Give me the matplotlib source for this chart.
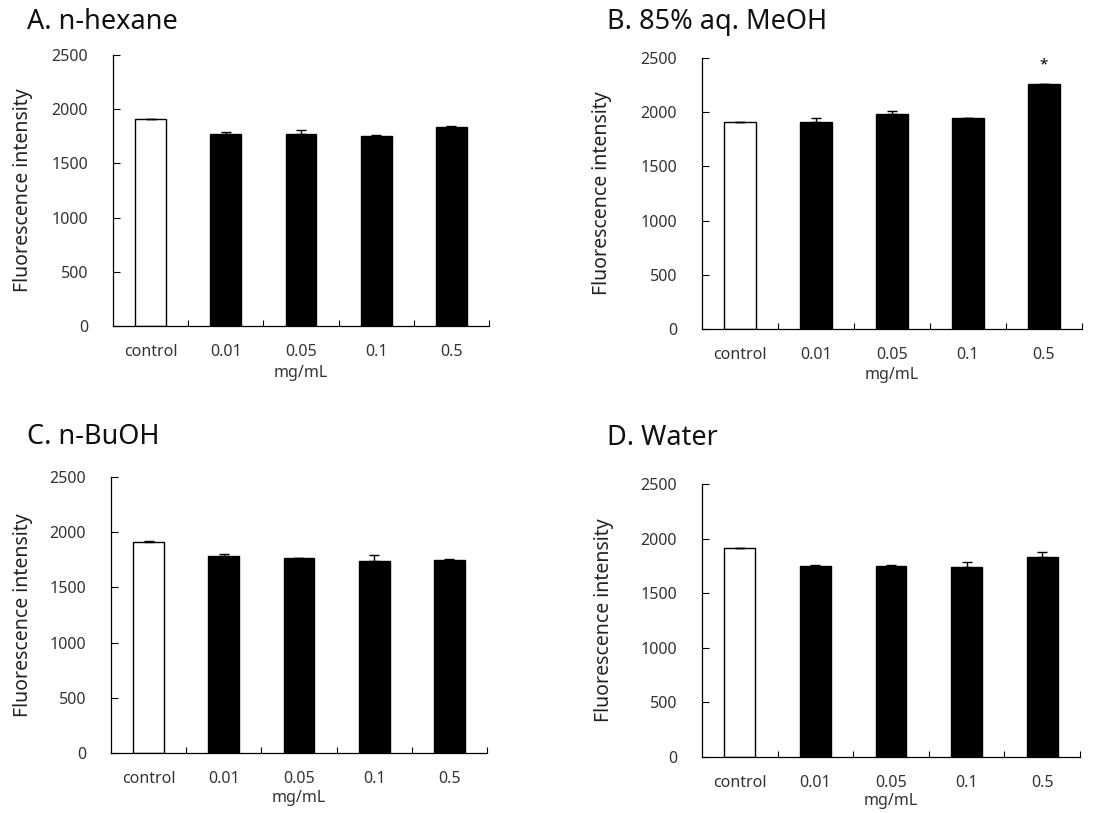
import matplotlib
matplotlib.use("Agg")
import matplotlib.pyplot as plt
import numpy as np

plt.rcParams['font.family'] = ['Noto Sans', 'DejaVu Sans']

categories = ["control", "0.01", "0.05", "0.1", "0.5"]
titles = ["A. n-hexane", "B. 85% aq. MeOH", "C. n-BuOH", "D. Water"]

hexane_vals = [1905, 1768, 1768, 1755, 1835]
hexane_err = [5, 20, 36, 4, 12]
meoh_vals = [1905, 1905, 1986, 1943, 2260]
meoh_err = [4, 37, 25, 4, 4]
buoh_vals = [1910, 1786, 1762, 1741, 1750]
buoh_err = [6, 21, 4, 54, 6]
water_vals = [1912, 1752, 1752, 1741, 1836]
water_err = [4, 9, 9, 49, 43]

values = [hexane_vals, meoh_vals, buoh_vals, water_vals]
errors = [hexane_err, meoh_err, buoh_err, water_err]
star_panel = 1
star_index = 4
star_value = 2435

yticks = [0, 500, 1000, 1500, 2000, 2500]

W, H = 1114, 813
fig = plt.figure(figsize=(W / 100, H / 100), dpi=100)

# axes boxes in pixels: (left, top, right, bottom)
boxes = [(113, 55, 489, 326), (702, 58, 1082, 329),
         (111, 477, 487, 753), (702, 484, 1080, 757)]
title_pos = [(27, 22), (607, 22), (27, 437), (607, 438)]
ylabel_off = [80, 90, 78, 88]
xlabel_off = [47, 46, 45, 44]

for i in range(4):
    l, t, r, b = boxes[i]
    ax = fig.add_axes([l / W, 1 - b / H, (r - l) / W, (b - t) / H])
    x = np.arange(len(categories))
    colors = ['white'] + ['black'] * (len(categories) - 1)
    ax.bar(x, values[i], width=0.41, color=colors, edgecolor='black',
           linewidth=1.0, zorder=2)
    ax.errorbar(x, values[i], yerr=[np.zeros(len(x)), errors[i]], fmt='none',
                ecolor='black', elinewidth=1.0, capsize=3.5, capthick=1.0, zorder=3)
    ax.set_xlim(-0.5, 4.5)
    ax.set_ylim(0, 2500)
    ax.set_yticks(yticks)
    ax.set_yticklabels([str(v) for v in yticks])
    ax.set_xticks(x)
    ax.set_xticklabels(categories)
    ax.set_xticks(np.arange(0.5, 5.0, 1.0), minor=True)
    ax.tick_params(axis='x', which='major', length=0, pad=13, labelsize=11.5,
                   labelcolor='#333333')
    ax.tick_params(axis='x', which='minor', direction='in', length=4, width=0.8)
    ax.tick_params(axis='y', which='major', direction='in', length=5, width=0.8,
                   pad=18, labelsize=11.5, labelcolor='#333333')
    for s in ['top', 'right']:
        ax.spines[s].set_visible(False)
    for s in ['left', 'bottom']:
        ax.spines[s].set_linewidth(0.9)
    ax.set_ylabel("Fluorescence intensity", fontsize=14, color='#222222')
    ax.yaxis.set_label_coords(-ylabel_off[i] / (r - l), 0.5)
    ax.set_xlabel("mg/mL", fontsize=11.5, color='#333333')
    ax.xaxis.set_label_coords(0.5, -xlabel_off[i] / (b - t))
    ax.xaxis.label.set_verticalalignment('center')
    if i == star_panel:
        ax.text(star_index, star_value, "*", ha='center', va='center', fontsize=11)
    tx, ty = title_pos[i]
    fig.text(tx / W, 1 - ty / H, titles[i], fontsize=19.5, ha='left', va='center',
             color='#111111')

fig.savefig("out.png", dpi=100)
